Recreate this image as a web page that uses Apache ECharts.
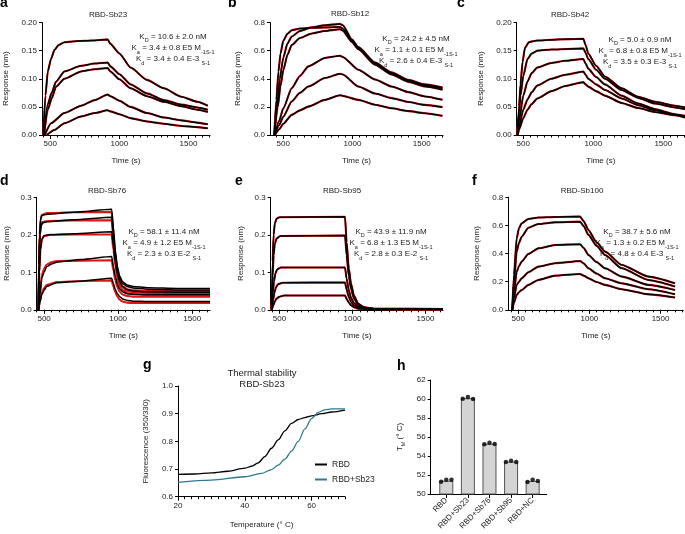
<!DOCTYPE html>
<html><head><meta charset="utf-8">
<script src="https://cdn.jsdelivr.net/npm/echarts@6/dist/echarts.min.js"></script>
<style>html,body{margin:0;padding:0;background:#fff}#c{width:685px;height:534px}</style>
</head><body><div id="c"></div>
<script>
// ---------------- DATA ----------------
const timeTickLabels = [500, 1000, 1500];
const panelTitles = ['RBD-Sb23', 'RBD-Sb12', 'RBD-Sb42', 'RBD-Sb76', 'RBD-Sb95', 'RBD-Sb100'];
const kinA = ['10.6 ± 2.0 nM', '3.4 ± 0.8 E5', '3.4 ± 0.4 E-3'];
const kinB = ['24.2 ± 4.5 nM', '1.1 ± 0.1 E5', '2.6 ± 0.4 E-3'];
const kinC = ['5.0 ± 0.9 nM', '6.8 ± 0.8 E5', '3.5 ± 0.3 E-3'];
const kinD = ['58.1 ± 11.4 nM', '4.9 ± 1.2 E5', '2.3 ± 0.3 E-2'];
const kinE = ['43.9 ± 11.9 nM', '6.8 ± 1.3 E5', '2.8 ± 0.3 E-2'];
const kinF = ['38.7 ± 5.6 nM', '1.3 ± 0.2 E5', '4.8 ± 0.4 E-3'];

// panel a  [time (s), response (nm)]
const a1 = [[449,0],[465,0.07],[482,0.113],[505,0.135],[530,0.151],[560,0.160],[602,0.165],[700,0.167],[800,0.168],[915,0.170],[935,0.162],[1000,0.145],[1081,0.120],[1200,0.098],[1322,0.083],[1450,0.068],[1564,0.059],[1640,0.052]];
const a2 = [[452,0],[482,0.055],[510,0.075],[542,0.095],[602,0.113],[723,0.123],[820,0.127],[915,0.129],[935,0.122],[1000,0.108],[1081,0.090],[1200,0.074],[1322,0.062],[1450,0.054],[1564,0.049],[1640,0.045]];
const a3 = [[455,0],[482,0.045],[510,0.065],[542,0.086],[602,0.100],[723,0.113],[820,0.117],[915,0.119],[935,0.113],[1000,0.099],[1081,0.083],[1200,0.069],[1322,0.059],[1450,0.051],[1564,0.045],[1640,0.041]];
const a4 = [[460,0],[506,0.021],[602,0.039],[723,0.052],[820,0.062],[915,0.072],[935,0.069],[1000,0.061],[1081,0.050],[1200,0.039],[1322,0.031],[1450,0.026],[1564,0.022],[1640,0.019]];
const a5 = [[475,0],[530,0.009],[602,0.021],[723,0.033],[820,0.039],[915,0.044],[935,0.042],[1000,0.037],[1081,0.030],[1200,0.024],[1322,0.020],[1450,0.016],[1564,0.014],[1640,0.012]];

// panel b
const b1 = [[435,0],[450,0.25],[465,0.45],[480,0.58],[500,0.67],[530,0.72],[561,0.745],[620,0.757],[700,0.762],[800,0.765],[910,0.768],[930,0.755],[995,0.672],[1042,0.618],[1163,0.508],[1283,0.438],[1403,0.385],[1524,0.352],[1650,0.33]];
const b2 = [[435,0],[455,0.2],[475,0.4],[500,0.55],[530,0.65],[561,0.70],[620,0.74],[700,0.765],[800,0.78],[910,0.79],[930,0.78],[995,0.68],[1042,0.625],[1163,0.515],[1283,0.445],[1403,0.392],[1524,0.36],[1650,0.338]];
const b3 = [[435,0],[460,0.2],[480,0.35],[500,0.46],[530,0.57],[561,0.64],[620,0.69],[700,0.72],[800,0.74],[910,0.752],[930,0.742],[995,0.662],[1042,0.61],[1163,0.5],[1283,0.43],[1403,0.378],[1524,0.345],[1650,0.322]];
const b4 = [[438,0],[470,0.1],[500,0.19],[561,0.333],[620,0.42],[681,0.488],[801,0.548],[910,0.564],[930,0.555],[1042,0.464],[1163,0.395],[1283,0.345],[1403,0.305],[1524,0.274],[1650,0.25]];
const b5 = [[440,0],[470,0.07],[500,0.13],[561,0.238],[620,0.3],[681,0.345],[801,0.405],[910,0.436],[930,0.43],[1042,0.345],[1163,0.295],[1283,0.262],[1403,0.235],[1524,0.214],[1650,0.198]];
const b6 = [[440,0],[470,0.04],[500,0.08],[561,0.143],[620,0.175],[681,0.202],[801,0.25],[910,0.283],[930,0.278],[1042,0.25],[1163,0.215],[1283,0.19],[1403,0.17],[1524,0.155],[1650,0.136]];

// panel c
const c1 = [[458,0],[470,0.05],[480,0.09],[495,0.13],[512,0.155],[540,0.165],[600,0.168],[750,0.17],[929,0.171],[945,0.16],[964,0.145],[1020,0.123],[1083,0.104],[1202,0.083],[1321,0.068],[1440,0.059],[1583,0.052],[1655,0.049]];
const c2 = [[458,0],[470,0.04],[480,0.07],[500,0.105],[530,0.135],[560,0.145],[600,0.15],[700,0.152],[929,0.154],[945,0.146],[964,0.135],[1020,0.116],[1083,0.1],[1202,0.08],[1321,0.066],[1440,0.056],[1583,0.049],[1655,0.046]];
const c3 = [[458,0],[470,0.025],[500,0.07],[530,0.095],[560,0.11],[600,0.12],[700,0.128],[800,0.132],[929,0.135],[945,0.127],[964,0.118],[1020,0.103],[1083,0.09],[1202,0.07],[1321,0.056],[1440,0.046],[1583,0.037],[1655,0.034]];
const c4 = [[460,0],[470,0.015],[500,0.045],[530,0.063],[560,0.076],[600,0.088],[700,0.1],[800,0.107],[929,0.113],[945,0.107],[964,0.1],[1020,0.09],[1083,0.08],[1202,0.065],[1321,0.053],[1440,0.044],[1583,0.036],[1655,0.032]];
const c5 = [[460,0],[470,0.01],[500,0.03],[530,0.045],[560,0.055],[600,0.065],[700,0.078],[800,0.087],[929,0.094],[945,0.09],[964,0.086],[1020,0.078],[1083,0.07],[1202,0.057],[1321,0.048],[1440,0.041],[1583,0.035],[1655,0.031]];

// panel d (measured) and its fits
const d1 = [[461,0],[465,0.12],[470,0.2],[476,0.24],[484,0.252],[520,0.255],[700,0.26],[956,0.268],[968,0.22],[980,0.16],[995,0.115],[1010,0.09],[1030,0.075],[1060,0.066],[1100,0.062],[1200,0.059],[1400,0.057],[1620,0.057]];
const d2 = [[461,0],[466,0.13],[472,0.2],[480,0.225],[490,0.232],[520,0.235],[700,0.24],[956,0.247],[968,0.2],[980,0.15],[995,0.108],[1010,0.085],[1030,0.07],[1060,0.062],[1100,0.058],[1200,0.055],[1400,0.053],[1620,0.053]];
const d3 = [[462,0],[468,0.1],[475,0.16],[485,0.188],[500,0.198],[540,0.2],[700,0.203],[956,0.208],[968,0.17],[980,0.13],[995,0.095],[1010,0.075],[1030,0.062],[1060,0.054],[1100,0.05],[1200,0.048],[1400,0.047],[1620,0.047]];
const d4 = [[462,0],[472,0.04],[484,0.084],[500,0.1],[517,0.115],[550,0.122],[585,0.127],[750,0.134],[956,0.142],[968,0.115],[980,0.09],[995,0.068],[1010,0.056],[1030,0.048],[1060,0.043],[1100,0.041],[1200,0.04],[1400,0.04],[1620,0.04]];
const d5 = [[463,0],[472,0.02],[484,0.04],[500,0.052],[517,0.062],[585,0.072],[765,0.077],[956,0.084],[968,0.07],[980,0.055],[995,0.043],[1010,0.035],[1030,0.029],[1060,0.025],[1100,0.023],[1200,0.022],[1400,0.022],[1620,0.022]];
const d1fit = [[461,0],[465,0.12],[470,0.2],[476,0.24],[484,0.253],[520,0.258],[700,0.26],[956,0.261],[968,0.205],[980,0.148],[995,0.103],[1010,0.078],[1030,0.063],[1060,0.055],[1100,0.052],[1200,0.05],[1400,0.05],[1620,0.05]];
const d2fit = [[461,0],[466,0.13],[472,0.2],[480,0.225],[490,0.234],[520,0.237],[700,0.238],[956,0.239],[968,0.19],[980,0.14],[995,0.098],[1010,0.074],[1030,0.06],[1060,0.051],[1100,0.047],[1200,0.045],[1400,0.045],[1620,0.045]];
const d3fit = [[462,0],[468,0.1],[475,0.16],[485,0.188],[500,0.197],[540,0.2],[700,0.201],[956,0.201],[968,0.16],[980,0.12],[995,0.085],[1010,0.065],[1030,0.053],[1060,0.045],[1100,0.042],[1200,0.04],[1400,0.04],[1620,0.04]];
const d4fit = [[462,0],[472,0.045],[484,0.09],[500,0.11],[517,0.12],[550,0.127],[585,0.13],[750,0.131],[956,0.132],[968,0.105],[980,0.08],[995,0.06],[1010,0.048],[1030,0.041],[1060,0.037],[1100,0.035],[1200,0.035],[1400,0.035],[1620,0.035]];
const d5fit = [[463,0],[472,0.025],[484,0.045],[500,0.058],[517,0.066],[585,0.074],[765,0.077],[956,0.078],[968,0.062],[980,0.047],[995,0.035],[1010,0.027],[1030,0.022],[1060,0.019],[1100,0.018],[1200,0.018],[1400,0.018],[1620,0.018]];

// panel e
const e1 = [[447,0],[453,0.13],[460,0.2],[468,0.23],[480,0.243],[500,0.247],[949,0.248],[960,0.18],[975,0.11],[990,0.07],[1010,0.038],[1040,0.016],[1080,0.007],[1150,0.003],[1620,0.002]];
const e2 = [[447,0],[453,0.09],[460,0.145],[468,0.175],[480,0.19],[505,0.197],[949,0.198],[960,0.145],[975,0.09],[990,0.056],[1010,0.03],[1040,0.013],[1080,0.006],[1150,0.003],[1620,0.002]];
const e3 = [[447,0],[455,0.045],[462,0.075],[472,0.097],[485,0.108],[510,0.113],[949,0.113],[960,0.083],[975,0.052],[990,0.032],[1010,0.018],[1040,0.008],[1080,0.004],[1150,0.002],[1620,0.001]];
const e4 = [[447,0],[456,0.025],[465,0.045],[476,0.06],[490,0.068],[520,0.072],[949,0.073],[960,0.054],[975,0.034],[990,0.021],[1010,0.012],[1040,0.005],[1080,0.003],[1150,0.002],[1620,0.001]];
const e5 = [[448,0],[458,0.012],[468,0.022],[480,0.03],[500,0.035],[530,0.038],[949,0.038],[960,0.029],[975,0.019],[990,0.012],[1010,0.007],[1040,0.003],[1080,0.002],[1620,0.001]];

// panel f
const f1 = [[458,0],[470,0.25],[489,0.508],[505,0.58],[524,0.615],[571,0.646],[641,0.656],[758,0.66],[934,0.663],[960,0.63],[993,0.568],[1050,0.48],[1110,0.414],[1227,0.319],[1415,0.236],[1602,0.188]];
const f2 = [[458,0],[470,0.2],[489,0.413],[505,0.475],[524,0.52],[571,0.584],[641,0.61],[758,0.622],[934,0.627],[960,0.595],[993,0.533],[1050,0.455],[1110,0.39],[1227,0.295],[1415,0.212],[1602,0.165]];
const f3 = [[458,0],[470,0.13],[489,0.271],[505,0.31],[524,0.343],[571,0.397],[641,0.437],[758,0.461],[934,0.466],[960,0.44],[993,0.39],[1050,0.34],[1110,0.295],[1227,0.236],[1415,0.177],[1602,0.141]];
const f4 = [[458,0],[470,0.085],[489,0.177],[505,0.2],[524,0.224],[571,0.267],[641,0.307],[758,0.331],[934,0.347],[960,0.33],[993,0.295],[1050,0.258],[1110,0.224],[1227,0.188],[1415,0.146],[1602,0.11]];
const f5 = [[458,0],[470,0.05],[489,0.106],[505,0.125],[524,0.141],[571,0.177],[641,0.212],[758,0.243],[934,0.255],[960,0.243],[993,0.224],[1050,0.198],[1110,0.177],[1227,0.146],[1415,0.11],[1602,0.087]];

// panel g  [temperature (°C), fluorescence ratio 350/330]
const thermalRBD = [[20,0.681],[25,0.682],[30,0.686],[35,0.692],[40,0.703],[42,0.71],[44,0.722],[46,0.745],[48,0.775],[50,0.805],[52,0.838],[54,0.865],[56,0.879],[58,0.886],[60,0.892],[63,0.9],[66,0.906],[70,0.913]];
const thermalRBDSb23 = [[20,0.652],[30,0.66],[40,0.672],[45,0.684],[48,0.698],[50,0.714],[52,0.736],[54,0.765],[56,0.8],[58,0.845],[60,0.882],[62,0.905],[64,0.914],[66,0.917],[70,0.917]];
const thermalTickLabels = [20, 40, 60];

// panel h
const tmCategories = ['RBD', 'RBD+Sb23', 'RBD+Sb76', 'RBD+Sb95', 'RBD+NC'];
const tmMeans = [51.4, 60.08, 55.3, 53.41, 51.38];
const tmReplicates = [[51.29, 51.5, 51.5], [60.03, 60.2, 60.0], [55.23, 55.4, 55.26], [53.37, 53.5, 53.37], [51.26, 51.5, 51.37]];

// ---------------- CHART ----------------
const FONT = '"Liberation Sans", Arial, Helvetica, sans-serif';
const RED = '#dd1515';
const TXT = '#222';
const option = {animation: false, backgroundColor: '#fff', grid: [], xAxis: [], yAxis: [], series: [], graphic: [], legend: []};

function range(a, b, s) { const r = []; for (let v = a; v <= b + 1e-9; v += s) r.push(+v.toFixed(6)); return r; }

function kinLines(v) {
  return [
    'K{d|D} = ' + v[0],
    'K{d|a} = ' + v[1] + ' M{u|-1S-1}',
    'K{d|d} = ' + v[2] + ' {u|S-1}'
  ];
}
const richSub = {
  d: {fontSize: 5.5, fontFamily: FONT, fill: TXT, lineHeight: 13, verticalAlign: 'bottom'},
  u: {fontSize: 5.5, fontFamily: FONT, fill: TXT, lineHeight: 15, verticalAlign: 'bottom'}
};

function txt(x, y, text, opt) {
  option.graphic.push(Object.assign({type: 'text', x: x, y: y, silent: true,
    style: Object.assign({text: text, fontFamily: FONT, fontSize: 8, fill: TXT, align: 'center', verticalAlign: 'middle'}, opt || {})}));
}

function addKinetic(p) {
  const gi = option.grid.length;
  option.grid.push({left: p.grid[0], top: p.grid[1], width: p.grid[2], height: p.grid[3]});
  const xi = option.xAxis.length;
  const minor = range(Math.ceil(p.x[0] / 50) * 50, p.x[1], 50);
  option.xAxis.push({gridIndex: gi, type: 'value', position: 'bottom', min: p.x[0], max: p.x[1],
    axisLine: {show: true, onZero: false, lineStyle: {color: '#000', width: 1}}, splitLine: {show: false},
    axisTick: {show: true, length: 4, customValues: timeTickLabels, lineStyle: {color: '#000', width: 1}},
    axisLabel: {show: true, customValues: timeTickLabels, fontSize: 8, color: TXT, margin: 5, fontFamily: FONT, formatter: v => String(v)},
    name: 'Time (s)', nameLocation: 'middle', nameGap: 22, nameTextStyle: {fontSize: 8, color: TXT, fontFamily: FONT}});
  option.xAxis.push({gridIndex: gi, type: 'value', position: 'bottom', min: p.x[0], max: p.x[1],
    axisLine: {show: false, onZero: false}, splitLine: {show: false},
    axisTick: {show: true, length: 2.5, customValues: minor, lineStyle: {color: '#000', width: 1}},
    axisLabel: {show: false}});
  const yi = option.yAxis.length;
  option.yAxis.push({gridIndex: gi, type: 'value', position: 'left', min: 0, max: p.yMax, interval: p.yInt,
    axisLine: {show: true, onZero: false, lineStyle: {color: '#000', width: 1}}, splitLine: {show: false},
    axisTick: {show: true, length: 3, lineStyle: {color: '#000'}},
    axisLabel: {fontSize: 8, color: TXT, margin: 5, fontFamily: FONT, formatter: v => v.toFixed(p.yDec)},
    name: 'Response (nm)', nameLocation: 'middle', nameGap: p.nameGap, nameTextStyle: {fontSize: 8, color: TXT, fontFamily: FONT}});
  p.fit.forEach(c => option.series.push({type: 'line', xAxisIndex: xi, yAxisIndex: yi, data: c, showSymbol: false, silent: true,
    smooth: 0.2, smoothMonotone: 'x', lineStyle: {color: RED, width: 2.1}, z: 2}));
  p.data.forEach(c => option.series.push({type: 'line', xAxisIndex: xi, yAxisIndex: yi, data: c, showSymbol: false, silent: true,
    smooth: 0.2, smoothMonotone: 'x', lineStyle: {color: '#000', width: 1.5}, z: 3}));
  txt(p.titlePos[0], p.titlePos[1], p.title);
  const lines = kinLines(p.kin);
  lines.forEach((l, i) => txt(p.annPos[0], p.annPos[1] + i * 11, l, {rich: richSub}));
}

const panels = [
  {title: panelTitles[0], grid: [42, 22.5, 168, 112.5], x: [440, 1656], yMax: 0.2, yInt: 0.05, yDec: 2, nameGap: 32,
   data: [a1, a2, a3, a4, a5], fit: [a1, a2, a3, a4, a5], kin: kinA, titlePos: [108, 15], annPos: [173, 37]},
  {title: panelTitles[1], grid: [270, 22.5, 173, 112.5], x: [404, 1654], yMax: 0.8, yInt: 0.2, yDec: 1, nameGap: 28,
   data: [b1, b2, b3, b4, b5, b6], fit: [b1, b2, b3, b4, b5, b6], kin: kinB, titlePos: [350, 14], annPos: [416, 39]},
  {title: panelTitles[2], grid: [516.7, 22.5, 168.3, 112.5], x: [453, 1655], yMax: 0.2, yInt: 0.05, yDec: 2, nameGap: 32,
   data: [c1, c2, c3, c4, c5], fit: [c1, c2, c3, c4, c5], kin: kinC, titlePos: [570, 15], annPos: [640, 40]},
  {title: panelTitles[3], grid: [36.7, 197.3, 173.3, 112.5], x: [450, 1620], yMax: 0.3, yInt: 0.1, yDec: 1, nameGap: 26,
   data: [d1, d2, d3, d4, d5], fit: [d1fit, d2fit, d3fit, d4fit, d5fit], kin: kinD, titlePos: [107, 191], annPos: [164, 232]},
  {title: panelTitles[4], grid: [270.7, 197.3, 172.3, 112.5], x: [440, 1620], yMax: 0.3, yInt: 0.1, yDec: 1, nameGap: 26,
   data: [e1, e2, e3, e4, e5], fit: [e1, e2, e3, e4, e5], kin: kinE, titlePos: [342, 191], annPos: [391, 232]},
  {title: panelTitles[5], grid: [508.3, 197.3, 175, 112.5], x: [430, 1660], yMax: 0.8, yInt: 0.2, yDec: 1, nameGap: 28,
   data: [f1, f2, f3, f4, f5], fit: [f1, f2, f3, f4, f5], kin: kinF, titlePos: [582, 191], annPos: [637, 232]}
];
panels.forEach(addKinetic);

// ---- panel g ----
(function () {
  const gi = option.grid.length;
  option.grid.push({left: 178, top: 386, width: 167, height: 110.7});
  const xi = option.xAxis.length;
  option.xAxis.push({gridIndex: gi, type: 'value', position: 'bottom', min: 20, max: 70,
    axisLine: {show: true, onZero: false, lineStyle: {color: '#000'}}, splitLine: {show: false},
    axisTick: {show: true, length: 4, customValues: thermalTickLabels, lineStyle: {color: '#000'}},
    axisLabel: {customValues: thermalTickLabels, fontSize: 8, color: TXT, margin: 5, fontFamily: FONT},
    name: 'Temperature (° C)', nameLocation: 'middle', nameGap: 24, nameTextStyle: {fontSize: 8, color: TXT, fontFamily: FONT}});
  option.xAxis.push({gridIndex: gi, type: 'value', position: 'bottom', min: 20, max: 70, axisLine: {show: false, onZero: false}, splitLine: {show: false},
    axisTick: {show: true, length: 2.5, customValues: range(20, 70, 2), lineStyle: {color: '#000'}}, axisLabel: {show: false}});
  const yi = option.yAxis.length;
  option.yAxis.push({gridIndex: gi, type: 'value', position: 'left', min: 0.6, max: 1.0, interval: 0.1,
    axisLine: {show: true, onZero: false, lineStyle: {color: '#000'}}, splitLine: {show: false},
    axisTick: {show: true, length: 3, lineStyle: {color: '#000'}},
    axisLabel: {fontSize: 8, color: TXT, margin: 5, fontFamily: FONT, formatter: v => v.toFixed(1)},
    name: 'Fluorescence (350/330)', nameLocation: 'middle', nameGap: 28, nameTextStyle: {fontSize: 8, color: TXT, fontFamily: FONT}});
  option.series.push({name: 'RBD', type: 'line', xAxisIndex: xi, yAxisIndex: yi, data: thermalRBD, showSymbol: false, silent: true,
    smooth: 0.3, smoothMonotone: 'x', lineStyle: {color: '#000', width: 1.3}, itemStyle: {color: '#000'}, z: 3});
  option.series.push({name: 'RBD+Sb23', type: 'line', xAxisIndex: xi, yAxisIndex: yi, data: thermalRBDSb23, showSymbol: false, silent: true,
    smooth: 0.3, smoothMonotone: 'x', lineStyle: {color: '#2f7890', width: 1.3}, itemStyle: {color: '#2f7890'}, z: 3});
  option.legend.push({data: ['RBD', 'RBD+Sb23'], orient: 'vertical', left: 310, top: 455, itemGap: 6, itemWidth: 12, itemHeight: 2,
    icon: 'rect', selectedMode: false, textStyle: {fontSize: 8.5, color: TXT, fontFamily: FONT, padding: [0, 0, 0, 0]}});
  txt(262, 379, 'Thermal stability\nRBD-Sb23', {fontSize: 9.5, lineHeight: 11});
})();

// ---- panel h ----
(function () {
  const gi = option.grid.length;
  option.grid.push({left: 430.7, top: 380, width: 116, height: 114});
  const xi = option.xAxis.length;
  const idx = tmCategories.map((c, i) => i);
  option.xAxis.push({gridIndex: gi, type: 'value', position: 'bottom', min: -0.722, max: 4.65,
    axisLine: {show: true, onZero: false, lineStyle: {color: '#000'}}, splitLine: {show: false},
    axisTick: {show: true, length: 4, customValues: idx, lineStyle: {color: '#000'}},
    axisLabel: {customValues: idx, rotate: 45, fontSize: 8, color: TXT, margin: 5, fontFamily: FONT, formatter: v => tmCategories[Math.round(v)]}});
  const yi = option.yAxis.length;
  option.yAxis.push({gridIndex: gi, type: 'value', position: 'left', min: 50, max: 62, interval: 2,
    axisLine: {show: true, onZero: false, lineStyle: {color: '#000'}}, splitLine: {show: false},
    axisTick: {show: true, length: 3, lineStyle: {color: '#000'}},
    axisLabel: {fontSize: 8, color: TXT, margin: 5, fontFamily: FONT},
    name: 'T{s|M} (° C)', nameLocation: 'middle', nameGap: 24,
    nameTextStyle: {fontSize: 8, color: TXT, fontFamily: FONT, rich: {s: {fontSize: 5.5, fontFamily: FONT, color: TXT, lineHeight: 13, verticalAlign: 'bottom'}}}});
  option.series.push({type: 'bar', xAxisIndex: xi, yAxisIndex: yi, barWidth: 14, silent: true,
    data: tmMeans.map((m, i) => [i, m]), itemStyle: {color: '#d4d4d4', borderColor: '#555', borderWidth: 1}, z: 2});
  const dots = [];
  tmReplicates.forEach((reps, i) => reps.forEach((v, k) => dots.push([i + (k - 1) * 0.24, v])));
  option.series.push({type: 'scatter', xAxisIndex: xi, yAxisIndex: yi, data: dots, symbolSize: 4.5, silent: true,
    itemStyle: {color: '#000'}, z: 4});
})();

// panel letters
[['a', 0, 10], ['b', 228, 10], ['c', 457, 10], ['d', 0, 188], ['e', 235, 188], ['f', 472, 188], ['g', 143, 372], ['h', 397, 373]]
  .forEach(l => option.graphic.push({type: 'text', x: l[1], y: l[2], silent: true,
    style: {text: l[0], fontFamily: FONT, fontSize: 14, fontWeight: 'bold', fill: '#000', align: 'left', verticalAlign: 'bottom'}}));

const chart = echarts.init(document.getElementById('c'), null, {renderer: 'canvas'});
chart.setOption(option);
</script></body></html>
